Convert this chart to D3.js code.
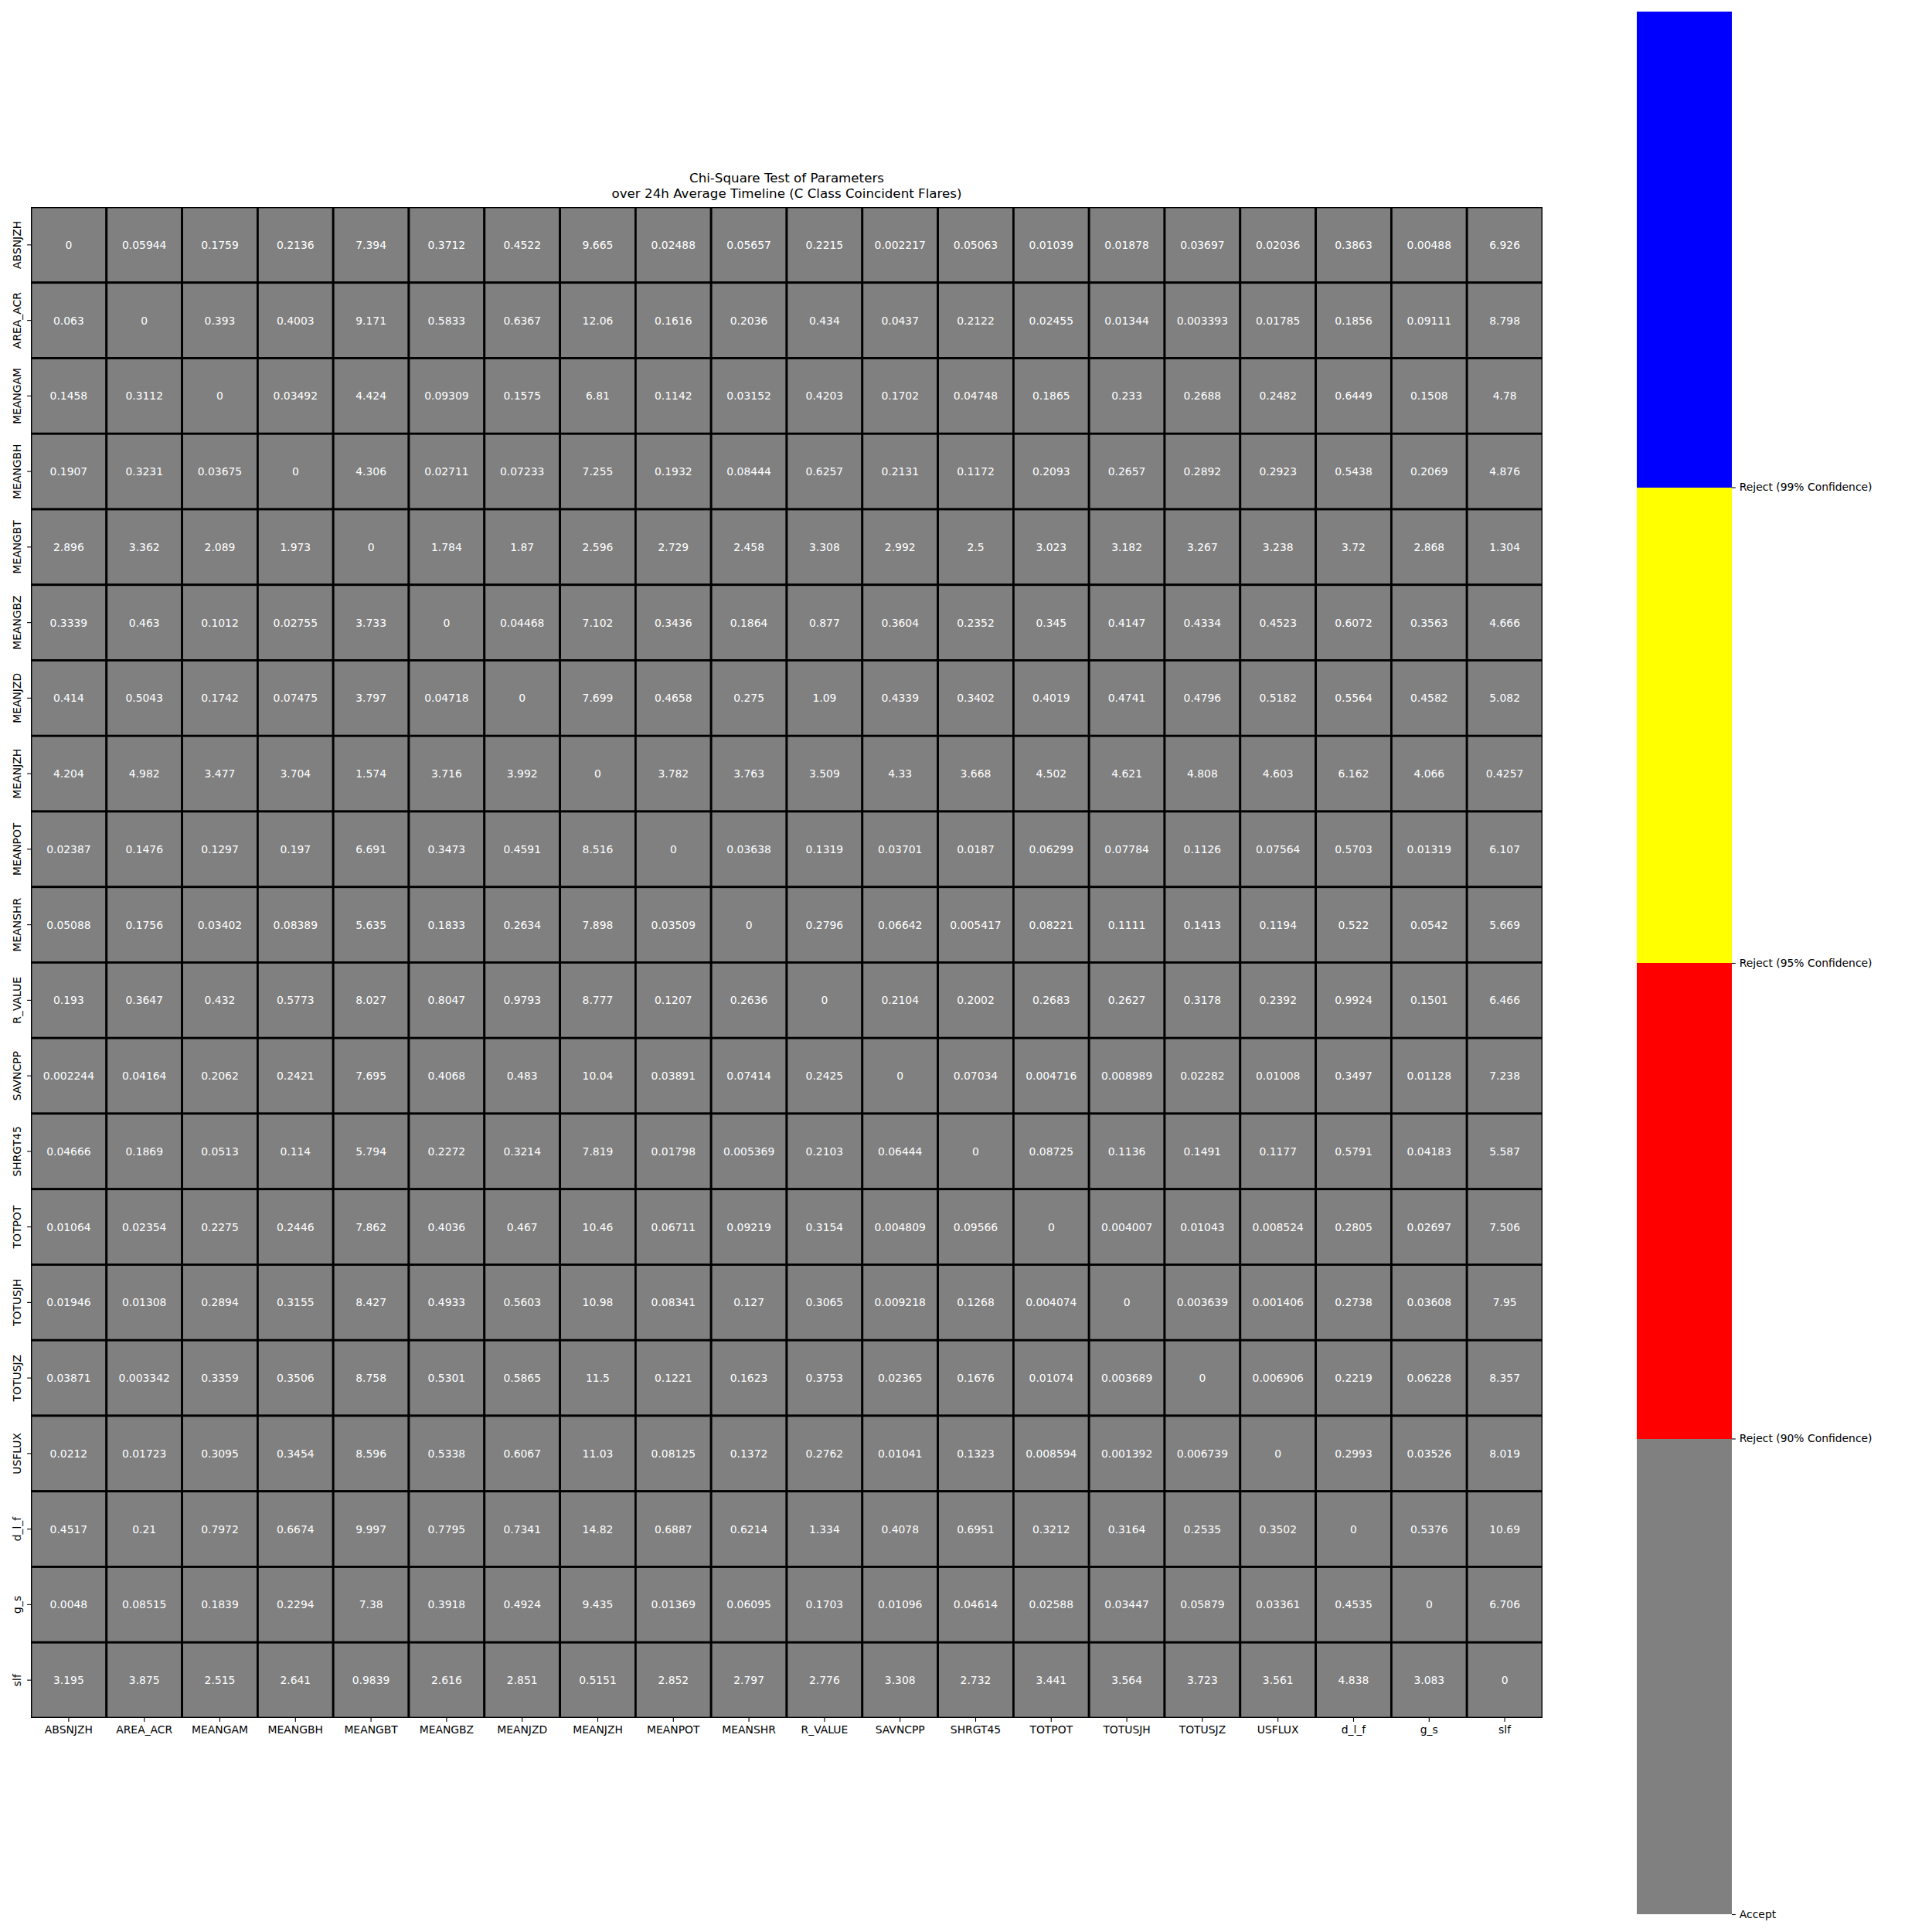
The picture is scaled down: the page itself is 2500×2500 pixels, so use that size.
<!DOCTYPE html>
<html>
<head>
<meta charset="utf-8">
<script src="https://cdn.jsdelivr.net/npm/d3@7"></script>
<style>
  html, body { margin: 0; padding: 0; background: #fff; }
  svg { display: block; font-family: "DejaVu Sans", sans-serif; }
</style>
</head>
<body>
<svg id="chart" width="2500" height="2500"></svg>
<script>
const params = ["ABSNJZH","AREA_ACR","MEANGAM","MEANGBH","MEANGBT","MEANGBZ","MEANJZD","MEANJZH","MEANPOT","MEANSHR","R_VALUE","SAVNCPP","SHRGT45","TOTPOT","TOTUSJH","TOTUSJZ","USFLUX","d_l_f","g_s","slf"];

const rowABSNJZH = [0,0.05944,0.1759,0.2136,7.394,0.3712,0.4522,9.665,0.02488,0.05657,0.2215,0.002217,0.05063,0.01039,0.01878,0.03697,0.02036,0.3863,0.00488,6.926];
const rowAREA_ACR = [0.063,0,0.393,0.4003,9.171,0.5833,0.6367,12.06,0.1616,0.2036,0.434,0.0437,0.2122,0.02455,0.01344,0.003393,0.01785,0.1856,0.09111,8.798];
const rowMEANGAM = [0.1458,0.3112,0,0.03492,4.424,0.09309,0.1575,6.81,0.1142,0.03152,0.4203,0.1702,0.04748,0.1865,0.233,0.2688,0.2482,0.6449,0.1508,4.78];
const rowMEANGBH = [0.1907,0.3231,0.03675,0,4.306,0.02711,0.07233,7.255,0.1932,0.08444,0.6257,0.2131,0.1172,0.2093,0.2657,0.2892,0.2923,0.5438,0.2069,4.876];
const rowMEANGBT = [2.896,3.362,2.089,1.973,0,1.784,1.87,2.596,2.729,2.458,3.308,2.992,2.5,3.023,3.182,3.267,3.238,3.72,2.868,1.304];
const rowMEANGBZ = [0.3339,0.463,0.1012,0.02755,3.733,0,0.04468,7.102,0.3436,0.1864,0.877,0.3604,0.2352,0.345,0.4147,0.4334,0.4523,0.6072,0.3563,4.666];
const rowMEANJZD = [0.414,0.5043,0.1742,0.07475,3.797,0.04718,0,7.699,0.4658,0.275,1.09,0.4339,0.3402,0.4019,0.4741,0.4796,0.5182,0.5564,0.4582,5.082];
const rowMEANJZH = [4.204,4.982,3.477,3.704,1.574,3.716,3.992,0,3.782,3.763,3.509,4.33,3.668,4.502,4.621,4.808,4.603,6.162,4.066,0.4257];
const rowMEANPOT = [0.02387,0.1476,0.1297,0.197,6.691,0.3473,0.4591,8.516,0,0.03638,0.1319,0.03701,0.0187,0.06299,0.07784,0.1126,0.07564,0.5703,0.01319,6.107];
const rowMEANSHR = [0.05088,0.1756,0.03402,0.08389,5.635,0.1833,0.2634,7.898,0.03509,0,0.2796,0.06642,0.005417,0.08221,0.1111,0.1413,0.1194,0.522,0.0542,5.669];
const rowR_VALUE = [0.193,0.3647,0.432,0.5773,8.027,0.8047,0.9793,8.777,0.1207,0.2636,0,0.2104,0.2002,0.2683,0.2627,0.3178,0.2392,0.9924,0.1501,6.466];
const rowSAVNCPP = [0.002244,0.04164,0.2062,0.2421,7.695,0.4068,0.483,10.04,0.03891,0.07414,0.2425,0,0.07034,0.004716,0.008989,0.02282,0.01008,0.3497,0.01128,7.238];
const rowSHRGT45 = [0.04666,0.1869,0.0513,0.114,5.794,0.2272,0.3214,7.819,0.01798,0.005369,0.2103,0.06444,0,0.08725,0.1136,0.1491,0.1177,0.5791,0.04183,5.587];
const rowTOTPOT = [0.01064,0.02354,0.2275,0.2446,7.862,0.4036,0.467,10.46,0.06711,0.09219,0.3154,0.004809,0.09566,0,0.004007,0.01043,0.008524,0.2805,0.02697,7.506];
const rowTOTUSJH = [0.01946,0.01308,0.2894,0.3155,8.427,0.4933,0.5603,10.98,0.08341,0.127,0.3065,0.009218,0.1268,0.004074,0,0.003639,0.001406,0.2738,0.03608,7.95];
const rowTOTUSJZ = [0.03871,0.003342,0.3359,0.3506,8.758,0.5301,0.5865,11.5,0.1221,0.1623,0.3753,0.02365,0.1676,0.01074,0.003689,0,0.006906,0.2219,0.06228,8.357];
const rowUSFLUX = [0.0212,0.01723,0.3095,0.3454,8.596,0.5338,0.6067,11.03,0.08125,0.1372,0.2762,0.01041,0.1323,0.008594,0.001392,0.006739,0,0.2993,0.03526,8.019];
const rowD_L_F = [0.4517,0.21,0.7972,0.6674,9.997,0.7795,0.7341,14.82,0.6887,0.6214,1.334,0.4078,0.6951,0.3212,0.3164,0.2535,0.3502,0,0.5376,10.69];
const rowG_S = [0.0048,0.08515,0.1839,0.2294,7.38,0.3918,0.4924,9.435,0.01369,0.06095,0.1703,0.01096,0.04614,0.02588,0.03447,0.05879,0.03361,0.4535,0,6.706];
const rowSLF = [3.195,3.875,2.515,2.641,0.9839,2.616,2.851,0.5151,2.852,2.797,2.776,3.308,2.732,3.441,3.564,3.723,3.561,4.838,3.083,0];

const matrix = [rowABSNJZH,rowAREA_ACR,rowMEANGAM,rowMEANGBH,rowMEANGBT,rowMEANGBZ,rowMEANJZD,rowMEANJZH,rowMEANPOT,rowMEANSHR,rowR_VALUE,rowSAVNCPP,rowSHRGT45,rowTOTPOT,rowTOTUSJH,rowTOTUSJZ,rowUSFLUX,rowD_L_F,rowG_S,rowSLF];

// decision levels (bottom to top of the colour bar)
const levelLabels = ["Accept","Reject (90% Confidence)","Reject (95% Confidence)","Reject (99% Confidence)"];
const levelColors = ["#808080","#ff0000","#ffff00","#0000ff"];
// chi-square critical values (df = 19) at 90%, 95%, 99%
const criticalValues = [27.204, 30.144, 36.191];

const titleLines = ["Chi-Square Test of Parameters","over 24h Average Timeline (C Class Coincident Flares)"];

const svg = d3.select("#chart");

const hm = {x0: 40, x1: 1996, y0: 268, y1: 2223};
const x = d3.scaleBand().domain(params).range([hm.x0, hm.x1]);
const y = d3.scaleBand().domain(params).range([hm.y0, hm.y1]);
const level = d3.scaleThreshold().domain(criticalValues).range([0,1,2,3]);

const cells = [];
matrix.forEach((row, i) => row.forEach((v, j) => cells.push({r: params[i], c: params[j], v})));

svg.append("defs").append("clipPath").attr("id","hmclip")
  .append("rect").attr("x",hm.x0).attr("y",hm.y0).attr("width",hm.x1-hm.x0).attr("height",hm.y1-hm.y0);

const g = svg.append("g").attr("clip-path","url(#hmclip)");
g.selectAll("rect.cell").data(cells).join("rect")
  .attr("class","cell")
  .attr("x", d => x(d.c)).attr("y", d => y(d.r))
  .attr("width", x.bandwidth()).attr("height", y.bandwidth())
  .attr("fill", d => levelColors[level(d.v)])
  .attr("stroke","#000").attr("stroke-width",2.8);

const fmt = v => {
  if (v === 0) return "0";
  let s = d3.format(".4")(v);
  if (s.includes("e")) return s;
  if (s.includes(".")) s = s.replace(/0+$/,"").replace(/\.$/,"");
  return s;
};

svg.append("g").selectAll("text").data(cells).join("text")
  .attr("x", d => x(d.c) + x.bandwidth()/2)
  .attr("y", d => y(d.r) + y.bandwidth()/2)
  .attr("text-anchor","middle").attr("dominant-baseline","central")
  .attr("fill","#ffffff").attr("font-size","13.9px")
  .text(d => fmt(d.v));

// axes
const xAxis = d3.axisBottom(x).tickSize(4.9).tickPadding(4.9);
const gx = svg.append("g").attr("transform",`translate(0,${hm.y1})`).call(xAxis);
gx.select(".domain").remove();
gx.selectAll("line").attr("stroke","#000").attr("stroke-width",1.1);
gx.selectAll("text").attr("font-size","13.9px").attr("fill","#000").attr("font-family","DejaVu Sans");

const yAxis = d3.axisLeft(y).tickSize(4.9).tickPadding(4.9);
const gy = svg.append("g").attr("transform",`translate(${hm.x0},0)`).call(yAxis);
gy.select(".domain").remove();
gy.selectAll("line").attr("stroke","#000").attr("stroke-width",1.1);
gy.selectAll(".tick text")
  .attr("font-size","13.9px").attr("fill","#000").attr("font-family","DejaVu Sans")
  .attr("x", null).attr("dy", null)
  .attr("text-anchor","middle").attr("dominant-baseline","central")
  .attr("transform","translate(-18,0) rotate(-90)");

// title
svg.append("g").selectAll("text").data(titleLines).join("text")
  .attr("x", (hm.x0+hm.x1)/2)
  .attr("y", (d,i) => 236 + i*20)
  .attr("text-anchor","middle").attr("font-size","16.7px").attr("fill","#000")
  .text(d => d);

// colour bar
const cb = {x0: 2118, x1: 2241, y0: 15, y1: 2477};
const cy = d3.scaleLinear().domain([0, levelLabels.length]).range([cb.y1, cb.y0]);
svg.append("g").selectAll("rect").data(levelColors).join("rect")
  .attr("x", cb.x0).attr("width", cb.x1 - cb.x0)
  .attr("y", (d,i) => cy(i+1)).attr("height", (d,i) => cy(i) - cy(i+1))
  .attr("fill", d => d).attr("shape-rendering","crispEdges");

const cAxis = d3.axisRight(cy).tickValues(d3.range(levelLabels.length))
  .tickFormat(i => levelLabels[i]).tickSize(4.9).tickPadding(4.9);
const gc = svg.append("g").attr("transform",`translate(${cb.x1},0)`).call(cAxis);
gc.select(".domain").remove();
gc.selectAll("line").attr("stroke","#000").attr("stroke-width",1.1);
gc.selectAll("text").attr("font-size","13.9px").attr("fill","#000").attr("font-family","DejaVu Sans");
</script>
</body>
</html>
